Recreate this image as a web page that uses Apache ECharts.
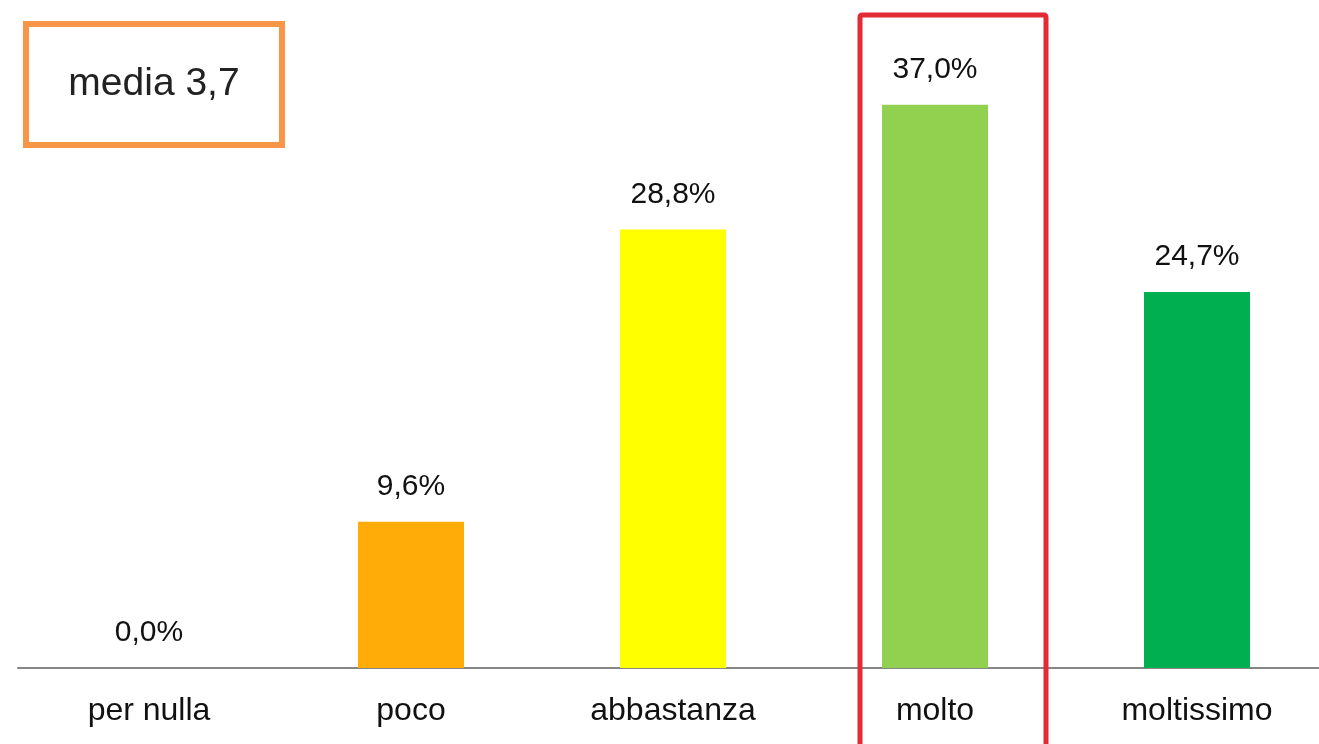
<!DOCTYPE html>
<html>
<head>
<meta charset="utf-8">
<script src="https://cdn.jsdelivr.net/npm/echarts@6/dist/echarts.min.js"></script>
<style>
  html, body { margin: 0; padding: 0; background: #fff; }
  #main { width: 1319px; height: 744px; }
</style>
</head>
<body>
<div id="main"></div>
<script>
var categories = ['per nulla', 'poco', 'abbastanza', 'molto', 'moltissimo'];
var values = [0.0, 9.6, 28.8, 37.0, 24.7];
var barColors = ['#FF0000', '#FFAB08', '#FFFF00', '#92D050', '#00B050'];
var mediaText = 'media 3,7';

var myChart = echarts.init(document.getElementById('main'));

var data = values.map(function (v, i) {
  return { value: v, itemStyle: { color: barColors[i] } };
});

var option = {
  backgroundColor: '#fff',
  animation: false,
  textStyle: { fontFamily: 'Liberation Sans' },
  grid: { left: 18, width: 1310, top: 59, bottom: 76, outerBoundsMode: 'none', containLabel: false },
  xAxis: {
    type: 'category',
    data: categories,
    axisLine: { lineStyle: { color: '#868686', width: 2 } },
    axisTick: { show: false },
    axisLabel: { color: '#111', fontSize: 32, margin: 27 }
  },
  yAxis: {
    type: 'value',
    min: 0,
    max: 40,
    show: false,
    splitLine: { show: false }
  },
  series: [{
    type: 'bar',
    data: data,
    barWidth: 106,
    label: {
      show: true,
      position: 'top',
      distance: 20,
      color: '#111',
      fontSize: 30,
      formatter: function (p) {
        return p.value.toFixed(1).replace('.', ',') + '%';
      }
    }
  }],
  graphic: [
    {
      type: 'rect',
      shape: { x: 26, y: 24, width: 256, height: 121 },
      style: { fill: '#fff', stroke: '#F79646', lineWidth: 6 }
    },
    {
      type: 'text',
      x: 154, y: 84,
      style: {
        text: mediaText,
        fontFamily: 'Liberation Sans',
        fontSize: 39,
        fill: '#222',
        align: 'center',
        verticalAlign: 'middle'
      }
    },
    {
      type: 'rect',
      z: 100,
      shape: { x: 860, y: 15, width: 186, height: 760, r: 2 },
      style: { fill: 'none', stroke: '#E42A35', lineWidth: 5 }
    }
  ]
};

myChart.setOption(option);
</script>
</body>
</html>
